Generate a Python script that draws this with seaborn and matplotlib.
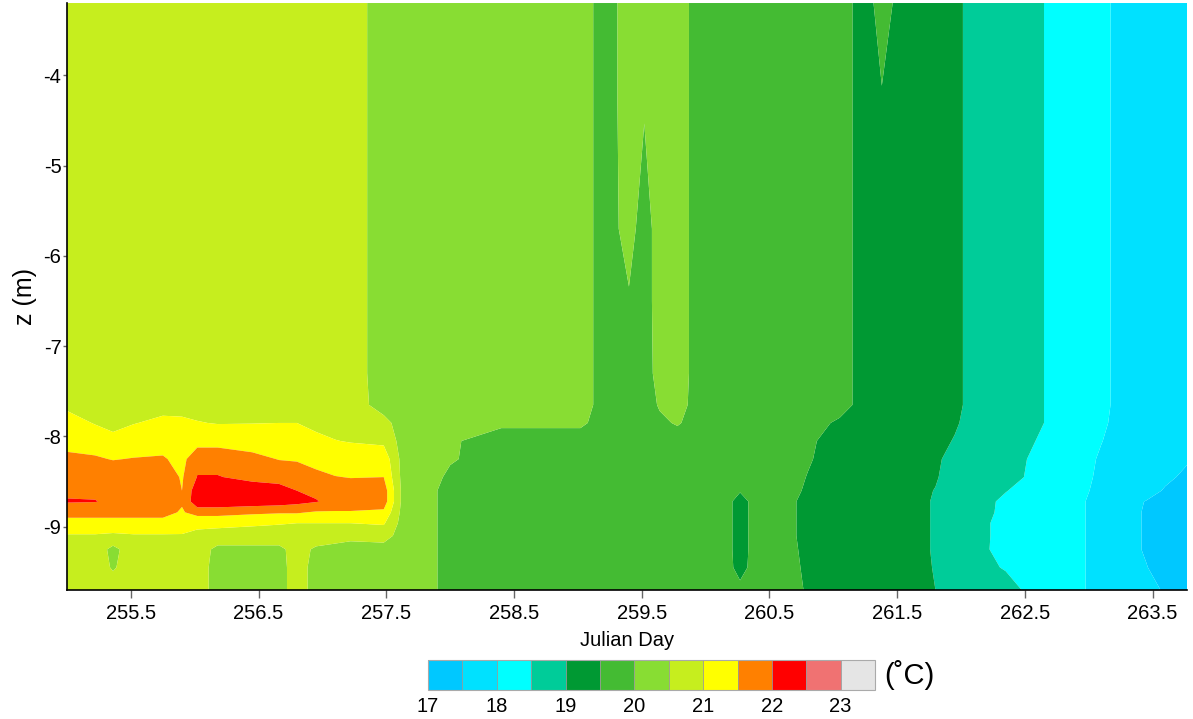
import numpy as np
import matplotlib
matplotlib.use("Agg")
import matplotlib.pyplot as plt
import seaborn as sns

# ---------------- data ----------------
# depth below surface (m) of the grid rows; plotted as z = -depth
depth_nodes = [3.2, 4.3, 5.7, 6.5, 7.3, 7.65, 7.85, 8.05, 8.25, 8.45,
               8.6, 8.72, 8.84, 8.96, 9.1, 9.25, 9.45, 9.7]

# Julian day of the grid columns
day_nodes = [255.00, 255.22, 255.36, 255.52, 255.75, 255.90, 256.02, 256.18,
             256.45, 256.66, 256.80, 256.95, 257.10, 257.22, 257.48, 257.64,
             257.80, 258.00, 258.40, 258.80, 259.02, 259.22, 259.40, 259.52,
             259.64, 259.78, 259.96, 260.15, 260.27, 260.40, 260.60, 260.80,
             261.05, 261.25, 261.38, 261.55, 261.80, 261.95, 262.08, 262.35,
             262.55, 262.75, 262.95, 263.10, 263.25, 263.45, 263.60, 263.77]

# temperature profiles (deg C), one list per day column, top (3.2 m) to bottom (9.7 m)
temp_by_day = [
    [20.75, 20.75, 20.75, 20.75, 20.75, 20.9, 21.2, 21.35, 21.6, 21.8, 21.9, 22.04, 21.65, 21.35, 20.95, 20.8, 20.75, 20.75],
    [20.75, 20.75, 20.75, 20.75, 20.75, 20.8, 20.97, 21.3, 21.55, 21.8, 21.9, 22.02, 21.65, 21.35, 20.95, 20.8, 20.75, 20.75],
    [20.75, 20.75, 20.75, 20.75, 20.75, 20.78, 20.9, 21.1, 21.48, 21.78, 21.88, 21.9, 21.65, 21.35, 20.9, 20.35, 20.45, 20.75],
    [20.75, 20.75, 20.75, 20.75, 20.75, 20.8, 20.98, 21.25, 21.52, 21.8, 21.88, 21.9, 21.65, 21.35, 20.95, 20.8, 20.75, 20.75],
    [20.75, 20.75, 20.75, 20.75, 20.75, 20.85, 21.1, 21.3, 21.55, 21.8, 21.88, 21.9, 21.65, 21.35, 20.95, 20.8, 20.75, 20.75],
    [20.75, 20.75, 20.75, 20.75, 20.75, 20.85, 21.08, 21.25, 21.35, 21.45, 21.5, 21.55, 21.45, 21.3, 20.95, 20.8, 20.75, 20.75],
    [20.75, 20.75, 20.75, 20.75, 20.75, 20.85, 21.02, 21.3, 21.85, 22.02, 22.3, 22.35, 21.7, 21.1, 20.9, 20.8, 20.75, 20.75],
    [20.75, 20.75, 20.75, 20.75, 20.75, 20.82, 20.98, 21.3, 21.85, 22.02, 22.3, 22.35, 21.7, 21.1, 20.85, 20.35, 20.3, 20.3],
    [20.75, 20.75, 20.75, 20.75, 20.75, 20.82, 20.99, 21.25, 21.65, 21.9, 22.2, 22.3, 21.6, 21.05, 20.85, 20.35, 20.3, 20.3],
    [20.75, 20.75, 20.75, 20.75, 20.75, 20.82, 21.0, 21.2, 21.48, 21.85, 22.15, 22.25, 21.55, 21.02, 20.85, 20.35, 20.3, 20.3],
    [20.75, 20.75, 20.75, 20.75, 20.75, 20.82, 21.0, 21.2, 21.45, 21.8, 22.0, 22.15, 21.55, 21.0, 20.85, 20.75, 20.75, 20.75],
    [20.75, 20.75, 20.75, 20.75, 20.75, 20.78, 20.9, 21.1, 21.3, 21.65, 21.9, 22.03, 21.45, 21.0, 20.85, 20.4, 20.3, 20.3],
    [20.75, 20.75, 20.75, 20.75, 20.75, 20.78, 20.88, 21.01, 21.2, 21.52, 21.75, 21.85, 21.45, 21.0, 20.7, 20.35, 20.3, 20.3],
    [20.75, 20.75, 20.75, 20.75, 20.75, 20.75, 20.85, 20.98, 21.2, 21.48, 21.75, 21.85, 21.45, 21.0, 20.6, 20.35, 20.3, 20.3],
    [20.25, 20.25, 20.25, 20.25, 20.25, 20.3, 20.65, 20.9, 21.3, 21.5, 21.75, 21.75, 21.4, 21.05, 20.7, 20.3, 20.25, 20.25],
    [20.25, 20.25, 20.25, 20.25, 20.25, 20.25, 20.25, 20.25, 20.25, 20.25, 20.25, 20.25, 20.25, 20.25, 20.25, 20.25, 20.25, 20.25],
    [20.25, 20.25, 20.25, 20.25, 20.25, 20.25, 20.25, 20.25, 20.25, 20.25, 20.25, 20.25, 20.25, 20.25, 20.25, 20.25, 20.25, 20.25],
    [20.25, 20.25, 20.25, 20.25, 20.25, 20.25, 20.25, 20.07, 20.05, 19.9, 19.75, 19.75, 19.75, 19.75, 19.75, 19.75, 19.75, 19.75],
    [20.25, 20.25, 20.25, 20.25, 20.25, 20.25, 20.1, 19.75, 19.75, 19.75, 19.75, 19.75, 19.75, 19.75, 19.75, 19.75, 19.75, 19.75],
    [20.25, 20.25, 20.25, 20.25, 20.25, 20.25, 20.1, 19.75, 19.75, 19.75, 19.75, 19.75, 19.75, 19.75, 19.75, 19.75, 19.75, 19.75],
    [20.25, 20.25, 20.25, 20.25, 20.25, 20.25, 20.1, 19.75, 19.75, 19.75, 19.75, 19.75, 19.75, 19.75, 19.75, 19.75, 19.75, 19.75],
    [19.75, 19.75, 19.75, 19.75, 19.75, 19.75, 19.75, 19.75, 19.75, 19.75, 19.75, 19.75, 19.75, 19.75, 19.75, 19.75, 19.75, 19.75],
    [20.25, 20.25, 20.2, 19.95, 19.8, 19.75, 19.75, 19.75, 19.75, 19.75, 19.75, 19.75, 19.75, 19.75, 19.75, 19.75, 19.75, 19.75],
    [20.25, 20.05, 19.75, 19.75, 19.75, 19.75, 19.75, 19.75, 19.75, 19.75, 19.75, 19.75, 19.75, 19.75, 19.75, 19.75, 19.75, 19.75],
    [20.25, 20.25, 20.25, 20.25, 20.2, 20.05, 19.9, 19.75, 19.75, 19.75, 19.75, 19.75, 19.75, 19.75, 19.75, 19.75, 19.75, 19.75],
    [20.25, 20.25, 20.25, 20.25, 20.25, 20.2, 20.05, 19.75, 19.75, 19.75, 19.75, 19.75, 19.75, 19.75, 19.75, 19.75, 19.75, 19.75],
    [19.75, 19.75, 19.75, 19.75, 19.75, 19.75, 19.75, 19.75, 19.75, 19.75, 19.75, 19.75, 19.75, 19.75, 19.75, 19.75, 19.75, 19.75],
    [19.75, 19.75, 19.75, 19.75, 19.75, 19.75, 19.75, 19.75, 19.75, 19.75, 19.75, 19.75, 19.75, 19.75, 19.75, 19.75, 19.75, 19.75],
    [19.75, 19.75, 19.75, 19.75, 19.75, 19.75, 19.75, 19.75, 19.75, 19.75, 19.55, 19.25, 19.25, 19.25, 19.25, 19.25, 19.3, 19.65],
    [19.75, 19.75, 19.75, 19.75, 19.75, 19.75, 19.75, 19.75, 19.75, 19.75, 19.75, 19.75, 19.75, 19.75, 19.75, 19.75, 19.75, 19.75],
    [19.75, 19.75, 19.75, 19.75, 19.75, 19.75, 19.75, 19.75, 19.75, 19.75, 19.75, 19.75, 19.75, 19.75, 19.75, 19.75, 19.75, 19.75],
    [19.75, 19.75, 19.75, 19.75, 19.75, 19.75, 19.75, 19.6, 19.55, 19.48, 19.42, 19.3, 19.3, 19.3, 19.3, 19.35, 19.4, 19.45],
    [19.75, 19.75, 19.75, 19.75, 19.75, 19.75, 19.4, 19.25, 19.25, 19.25, 19.25, 19.25, 19.25, 19.25, 19.25, 19.25, 19.25, 19.25],
    [19.25, 19.25, 19.25, 19.25, 19.25, 19.25, 19.25, 19.25, 19.25, 19.25, 19.25, 19.25, 19.25, 19.25, 19.25, 19.25, 19.25, 19.25],
    [19.75, 19.45, 19.25, 19.25, 19.25, 19.25, 19.25, 19.25, 19.25, 19.25, 19.25, 19.25, 19.25, 19.25, 19.25, 19.25, 19.25, 19.25],
    [19.25, 19.25, 19.25, 19.25, 19.25, 19.25, 19.25, 19.25, 19.25, 19.25, 19.25, 19.25, 19.25, 19.25, 19.25, 19.25, 19.25, 19.25],
    [19.25, 19.25, 19.25, 19.25, 19.25, 19.25, 19.25, 19.25, 19.1, 19.05, 18.98, 18.95, 18.95, 18.95, 18.95, 18.95, 18.97, 19.0],
    [19.25, 19.25, 19.25, 19.25, 19.25, 19.25, 19.1, 18.95, 18.8, 18.75, 18.75, 18.75, 18.75, 18.75, 18.75, 18.75, 18.75, 18.75],
    [18.75, 18.75, 18.75, 18.75, 18.75, 18.75, 18.75, 18.75, 18.75, 18.75, 18.75, 18.75, 18.75, 18.75, 18.75, 18.75, 18.75, 18.75],
    [18.75, 18.75, 18.75, 18.75, 18.75, 18.75, 18.75, 18.75, 18.75, 18.75, 18.52, 18.4, 18.38, 18.3, 18.3, 18.28, 18.45, 18.75],
    [18.75, 18.75, 18.75, 18.75, 18.75, 18.75, 18.75, 18.55, 18.45, 18.4, 18.3, 18.25, 18.25, 18.25, 18.25, 18.25, 18.25, 18.35],
    [18.25, 18.25, 18.25, 18.25, 18.25, 18.25, 18.25, 18.25, 18.25, 18.25, 18.25, 18.25, 18.25, 18.25, 18.25, 18.25, 18.25, 18.25],
    [18.25, 18.25, 18.25, 18.25, 18.25, 18.25, 18.25, 18.25, 18.25, 18.25, 18.15, 18.05, 18.05, 18.05, 18.05, 18.05, 18.05, 18.05],
    [18.25, 18.25, 18.25, 18.25, 18.25, 18.25, 18.15, 18.02, 17.9, 17.8, 17.75, 17.75, 17.75, 17.75, 17.75, 17.75, 17.75, 17.75],
    [17.72, 17.72, 17.72, 17.72, 17.72, 17.72, 17.72, 17.72, 17.72, 17.72, 17.72, 17.72, 17.72, 17.72, 17.72, 17.72, 17.72, 17.72],
    [17.75, 17.75, 17.75, 17.75, 17.75, 17.75, 17.75, 17.75, 17.75, 17.75, 17.7, 17.48, 17.45, 17.45, 17.45, 17.45, 17.52, 17.65],
    [17.75, 17.75, 17.75, 17.75, 17.75, 17.75, 17.75, 17.75, 17.75, 17.6, 17.45, 17.3, 17.3, 17.3, 17.3, 17.3, 17.3, 17.45],
    [17.75, 17.75, 17.75, 17.75, 17.75, 17.75, 17.75, 17.75, 17.55, 17.4, 17.25, 17.25, 17.25, 17.25, 17.25, 17.25, 17.25, 17.25],
]

temp_levels = [17.0, 17.5, 18.0, 18.5, 19.0, 19.5, 20.0, 20.5, 21.0, 21.5, 22.0, 22.5, 23.0, 23.5]
band_colors = ['#00c8ff', '#00e1ff', '#00ffff', '#00cc99', '#009933', '#44bb33',
               '#88dd33', '#c6ee1e', '#ffff00', '#ff8000', '#ff0000', '#f07272', '#e5e5e5']
cbar_ticks = [17, 18, 19, 20, 21, 22, 23]
x_ticks = [255.5, 256.5, 257.5, 258.5, 259.5, 260.5, 261.5, 262.5, 263.5]
z_ticks = [-9, -8, -7, -6, -5, -4]

# ---------------- figure ----------------
sns.set_theme(style="white")
plt.rcParams['font.family'] = ['Liberation Sans', 'DejaVu Sans']
plt.rcParams['axes.unicode_minus'] = False

fig = plt.figure(figsize=(11.93, 7.19), dpi=100)
ax = fig.add_axes([0.0562, 0.1794, 0.9388, 0.8164])

days = np.array(day_nodes)
zz = -np.array(depth_nodes)
T = np.array(temp_by_day).T
cs = ax.contourf(days, zz, T, levels=temp_levels, colors=band_colors, antialiased=True)

ax.set_xlim(days.min(), days.max())
ax.set_ylim(zz.min(), zz.max())
ax.set_xticks(x_ticks)
ax.set_xticklabels([f"{t:.1f}" for t in x_ticks])
ax.set_yticks(z_ticks)
ax.set_yticklabels([f"{t:d}" for t in z_ticks])

for side in ['top', 'right']:
    ax.spines[side].set_visible(False)
for side in ['left', 'bottom']:
    ax.spines[side].set_visible(True)
    ax.spines[side].set_color('black')
    ax.spines[side].set_linewidth(1.2)

ax.tick_params(axis='x', bottom=True, direction='out', length=6, width=1,
               color='#666666', labelsize=14.5, pad=4, labelcolor='black')
ax.tick_params(axis='y', left=True, direction='out', length=3, width=1,
               color='#666666', labelsize=14.5, pad=1, labelcolor='black')
ax.set_xlabel('Julian Day', fontsize=14.5, labelpad=6, color='black')
ax.set_ylabel('z (m)', fontsize=18, labelpad=5, color='black')

# colour bar
cax = fig.add_axes([0.3588, 0.0403, 0.3747, 0.0417])
cb = fig.colorbar(cs, cax=cax, orientation='horizontal', ticks=cbar_ticks, drawedges=True)
cb.outline.set_edgecolor('#aaaaaa')
cb.outline.set_linewidth(0.8)
cb.dividers.set_color('#999999')
cb.dividers.set_linewidth(0.6)
cax.tick_params(length=0, labelsize=14.5, pad=5, labelcolor='black')
cax.set_xticklabels([str(t) for t in cbar_ticks])
cax.text(1.02, 0.5, '(\u02daC)', transform=cax.transAxes, ha='left', va='center',
         fontsize=21, color='black')

fig.savefig('out.png', dpi=100)
